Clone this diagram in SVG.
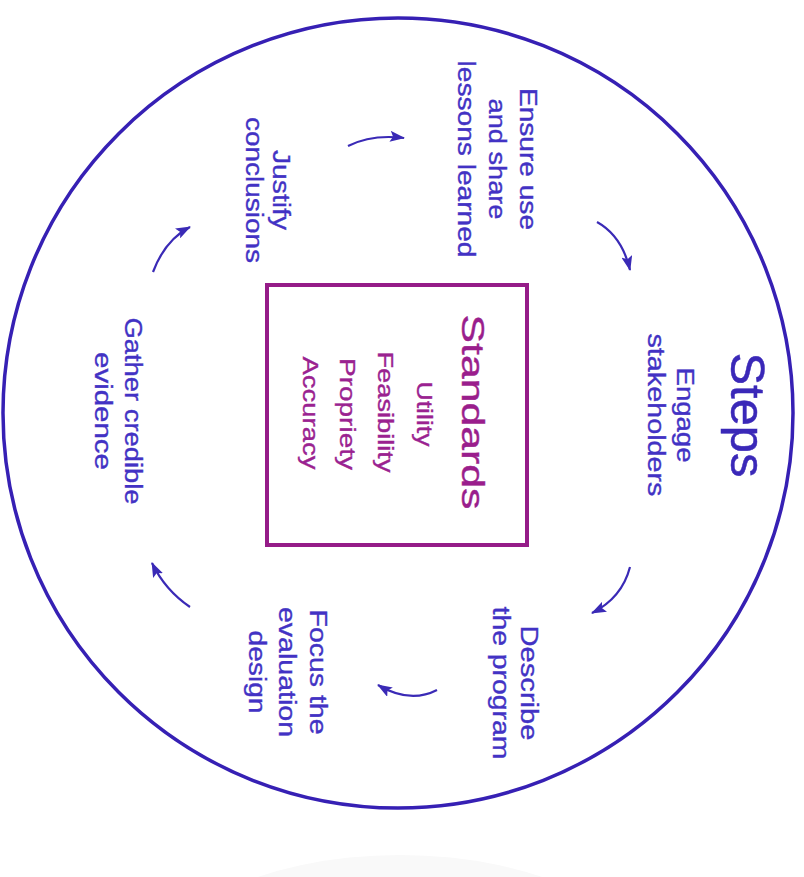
<svg xmlns="http://www.w3.org/2000/svg" width="804" height="877" viewBox="0 0 804 877">
  <style>
    text { font-family: "Liberation Sans", Arial, sans-serif; text-anchor: middle; }
    .step { fill: #4232c4; stroke: #4232c4; stroke-width: 0.35; font-size: 23px; }
    .title { fill: #3a28b8; stroke: #3a28b8; stroke-width: 0.5; font-size: 49px; }
    .std { fill: #9a2290; stroke: #9a2290; stroke-width: 0.35; font-size: 22px; }
    .stdTitle { fill: #9a1e8c; stroke: #9a1e8c; stroke-width: 0.4; font-size: 32px; }
    .ring { fill: none; stroke: #3620b4; stroke-width: 3.5; }
    .box { fill: none; stroke: #951c88; stroke-width: 4; }
    .flow { fill: none; stroke: #3a2ab6; stroke-width: 2.2; marker-end: url(#head); }
  </style>
  <defs>
    <marker id="head" viewBox="0 0 15 11" refX="14" refY="5.5" markerWidth="15" markerHeight="11" markerUnits="userSpaceOnUse" orient="auto">
      <path d="M0,0 L15,5.5 L0,11 L3,5.5 z" fill="#3a2ab6"/>
    </marker>
  </defs>

  <rect width="804" height="877" fill="#ffffff"/>
  <!-- soft floor shadow under the ring -->
  <ellipse cx="400" cy="990" rx="260" ry="135" fill="#f9f9f9"/>

  <circle id="ring" class="ring" cx="398" cy="413" r="395"/>

  <g id="steps-title" transform="translate(731,415) rotate(90)">
    <text class="title" x="0" y="0" textLength="125" lengthAdjust="spacingAndGlyphs">Steps</text>
  </g>

  <g id="engage" transform="translate(677,415) rotate(90)">
    <text class="step" x="0" y="0" textLength="95" lengthAdjust="spacingAndGlyphs">Engage</text>
    <text class="step" x="0" y="29" textLength="163" lengthAdjust="spacingAndGlyphs">stakeholders</text>
  </g>

  <g id="describe" transform="translate(521,683) rotate(90)">
    <text class="step" x="0" y="0" textLength="115" lengthAdjust="spacingAndGlyphs">Describe</text>
    <text class="step" x="0" y="28" textLength="153" lengthAdjust="spacingAndGlyphs">the program</text>
  </g>

  <g id="focus" transform="translate(310,672) rotate(90)">
    <text class="step" x="0" y="0" textLength="125" lengthAdjust="spacingAndGlyphs">Focus the</text>
    <text class="step" x="0" y="31" textLength="130" lengthAdjust="spacingAndGlyphs">evaluation</text>
    <text class="step" x="0" y="61" textLength="83" lengthAdjust="spacingAndGlyphs">design</text>
  </g>

  <g id="gather" transform="translate(125,411) rotate(90)">
    <text class="step" x="0" y="0" textLength="187" lengthAdjust="spacingAndGlyphs">Gather credible</text>
    <text class="step" x="0" y="30" textLength="118" lengthAdjust="spacingAndGlyphs">evidence</text>
  </g>

  <g id="justify" transform="translate(273,190) rotate(90)">
    <text class="step" x="0" y="0" textLength="80" lengthAdjust="spacingAndGlyphs">Justify</text>
    <text class="step" x="0" y="27" textLength="146" lengthAdjust="spacingAndGlyphs">conclusions</text>
  </g>

  <g id="ensure" transform="translate(520,159) rotate(90)">
    <text class="step" x="0" y="0" textLength="142" lengthAdjust="spacingAndGlyphs">Ensure use</text>
    <text class="step" x="0" y="31" textLength="121" lengthAdjust="spacingAndGlyphs">and share</text>
    <text class="step" x="0" y="62" textLength="197" lengthAdjust="spacingAndGlyphs">lessons learned</text>
  </g>

  <g id="standards">
    <rect class="box" x="267" y="285" width="260" height="260"/>
    <g transform="translate(462,412) rotate(90)">
      <text class="stdTitle" x="0" y="0" textLength="195" lengthAdjust="spacingAndGlyphs">Standards</text>
      <text class="std" x="2" y="45" textLength="65" lengthAdjust="spacingAndGlyphs">Utility</text>
      <text class="std" x="0" y="84" textLength="121" lengthAdjust="spacingAndGlyphs">Feasibility</text>
      <text class="std" x="2" y="122" textLength="112" lengthAdjust="spacingAndGlyphs">Propriety</text>
      <text class="std" x="1" y="159" textLength="113" lengthAdjust="spacingAndGlyphs">Accuracy</text>
    </g>
  </g>

  <g id="connectors">
    <path class="flow" d="M348,146 Q372,134 404,138"/>
    <path class="flow" d="M597,222 Q622,236 630,270"/>
    <path class="flow" d="M630,567 Q622,598 592,613"/>
    <path class="flow" d="M437,690 Q410,704 378,685"/>
    <path class="flow" d="M190,607 Q165,590 152,563"/>
    <path class="flow" d="M153,272 Q165,240 190,227"/>
  </g>
</svg>
